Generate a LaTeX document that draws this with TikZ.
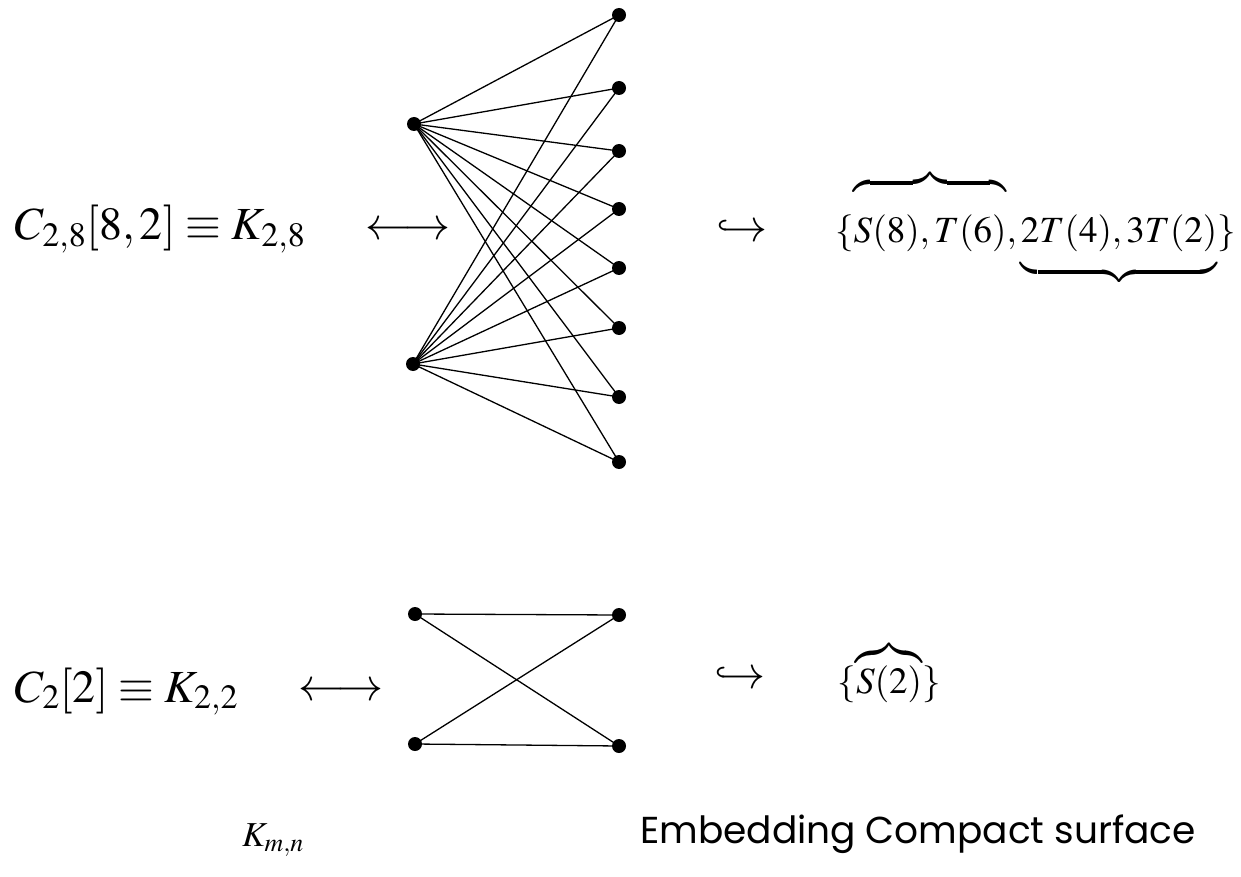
\documentclass[tikz,border=0pt]{standalone}
\usepackage{mathptmx}
\usepackage[no-math]{fontspec}
\newfontfamily\gothic{Poppins}
\begin{document}
\begin{tikzpicture}[x=1pt,y=-1pt,
  dot/.style={circle,fill=black,inner sep=0pt,minimum size=14pt},
  edge/.style={line width=1.3pt},
  bigmath/.style={inner sep=0pt,font=\fontsize{46}{50}\selectfont},
  rmath/.style={inner sep=0pt,font=\fontsize{37}{41}\selectfont},
  lbl/.style={inner sep=0pt}]
\useasboundingbox (0,0) rectangle (1241,877);
% top graph
\node[dot] (a1) at (414,124) {};
\node[dot] (a2) at (413,364) {};
\foreach \i/\y in {1/15,2/88,3/151,4/209,5/268,6/328,7/397,8/462}{
  \node[dot] (b\i) at (619,\y) {};
}
\foreach \i in {1,...,8}{
  \draw[edge] (a1.center) -- (b\i.center);
  \draw[edge] (a2.center) -- (b\i.center);
}
% bottom graph
\node[dot] (c1) at (415,614) {};
\node[dot] (c2) at (415,744) {};
\node[dot] (d1) at (619,615) {};
\node[dot] (d2) at (619,746) {};
\draw[edge] (c1.center) -- (d1.center);
\draw[edge] (c2.center) -- (d2.center);
\draw[edge] (c1.center) -- (d2.center);
\draw[edge] (c2.center) -- (d1.center);
% labels top row
\node[bigmath,anchor=base west] (t1) at (15,240) {$C_{2,8}[8,2]\equiv K_{2,8}$};
\node[bigmath,anchor=base] (t2) at (408,240) {$\longleftrightarrow$};
\node[bigmath,anchor=base] (t3) at (742,241) {$\hookrightarrow$};
\node[rmath,anchor=base west] (t4) at (835,243) {$\{\overbrace{\rule{0pt}{55pt}S(8),T(6)},\underbrace{\rule[-24pt]{0pt}{24pt}2T(4),3T(2)}\}$};
% labels bottom row
\node[bigmath,anchor=base west] (u1) at (15,702) {$C_{2}[2]\equiv K_{2,2}$};
\node[bigmath,anchor=base] (u2) at (341,700) {$\longleftrightarrow$};
\node[bigmath,anchor=base] (u3) at (740,688) {$\hookrightarrow$};
\node[rmath,anchor=base west] (u4) at (837,693) {$\{\overbrace{\rule{0pt}{35pt}S(2)}\}$};
% captions
\node[lbl,anchor=base,font=\fontsize{35}{39}\selectfont] (k) at (273,846) {$K_{m,n}$};
\node[lbl,anchor=base west,font=\gothic\fontsize{37.5}{42}\selectfont] (e) at (640,843) {Embedding Compact surface};
\end{tikzpicture}
\end{document}
